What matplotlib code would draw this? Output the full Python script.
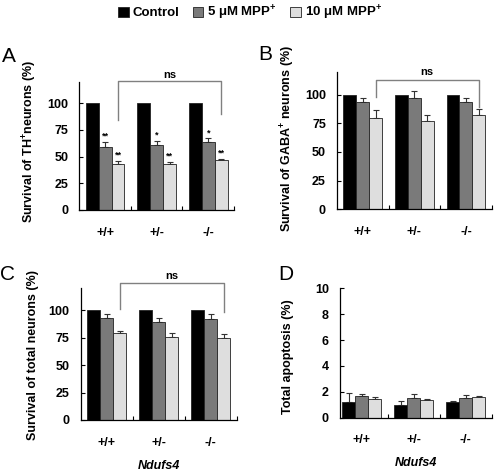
import numpy as np
import matplotlib
matplotlib.use("Agg")
import matplotlib.pyplot as plt

plt.rcParams['font.family'] = ['Liberation Sans', 'DejaVu Sans']
plt.rcParams['font.weight'] = 'bold'
plt.rcParams['axes.labelweight'] = 'bold'
plt.rcParams['mathtext.fontset'] = 'custom'
plt.rcParams['mathtext.rm'] = 'Liberation Sans:bold'
plt.rcParams['mathtext.it'] = 'Liberation Sans:bold:italic'
plt.rcParams['mathtext.bf'] = 'Liberation Sans:bold'

# data
genotypes = ['+/+', '+/-', '-/-']
series_names = ['Control', '5 μM MPP$^{+}$', '10 μM MPP$^{+}$']
colors = ['#000000', '#7a7a7a', '#dedede']

th_ctrl = [100, 100, 100]
th_ctrl_err = [0, 0, 0]
th_5 = [59, 61, 64]
th_5_err = [5, 4, 3]
th_10 = [43, 43, 47]
th_10_err = [3, 2, 1]
th_5_stars = ['**', '*', '*']
th_10_stars = ['**', '**', '**']

gaba_ctrl = [100, 100, 100]
gaba_ctrl_err = [0, 0, 0]
gaba_5 = [94, 97, 94]
gaba_5_err = [3, 6, 3]
gaba_10 = [80, 77, 82]
gaba_10_err = [7, 5, 5.5]

total_ctrl = [100, 100, 100]
total_ctrl_err = [0, 0, 0]
total_5 = [92.5, 89.5, 92]
total_5_err = [4.5, 3, 5]
total_10 = [79.5, 76, 75]
total_10_err = [2, 3.5, 3]

apop_ctrl = [1.25, 1.0, 1.2]
apop_ctrl_err = [0.65, 0.28, 0.12]
apop_5 = [1.65, 1.55, 1.55]
apop_5_err = [0.18, 0.28, 0.18]
apop_10 = [1.45, 1.35, 1.6]
apop_10_err = [0.17, 0.1, 0.05]

W, H = 494, 474
fig = plt.figure(figsize=(W / 100, H / 100), dpi=100)


def px_axes(x0, y0, x1, y1):
    # pixel box -> figure fraction
    return fig.add_axes([x0 / W, 1 - y1 / H, (x1 - x0) / W, (y1 - y0) / H])


def draw_panel(ax, means, errs, ylim, yticks, xlim=(-0.5, 2.5)):
    x = np.arange(len(genotypes))
    bw = 0.25
    bars = []
    for i, (m, e) in enumerate(zip(means, errs)):
        xs = x + (i - 1) * bw
        b = ax.bar(xs, m, bw, color=colors[i], edgecolor='#222222',
                   linewidth=0.6, zorder=2)
        bars.append(b)
        if any(v > 0 for v in e):
            ax.errorbar(xs, m, yerr=[np.zeros(len(e)), e], fmt='none',
                        ecolor='#333333', elinewidth=0.8, capsize=2.5,
                        capthick=0.8, zorder=1)
    ax.set_xlim(*xlim)
    ax.set_ylim(*ylim)
    ax.set_yticks(yticks)
    ax.set_xticks(x)
    ax.set_xticklabels(genotypes)
    ax.set_xticks([0.5, 1.5, 2.5], minor=True)
    ax.tick_params(axis='x', which='major', length=0, pad=12, labelsize=9)
    ax.tick_params(axis='x', which='minor', direction='in', length=3, width=0.8)
    ax.tick_params(axis='y', direction='in', length=3, width=0.8, labelsize=9, pad=8)
    for s in ['top', 'right']:
        ax.spines[s].set_visible(False)
    for s in ['left', 'bottom']:
        ax.spines[s].set_linewidth(0.9)
    return bars


def bracket(ax, x0, x1, ytop, yl, yr, label, ylab):
    ax.plot([x0, x0, x1, x1], [yl, ytop, ytop, yr], color='#808080',
            lw=1.0, clip_on=False, zorder=3)
    ax.text((x0 + x1) / 2, ylab, label, ha='center', va='center',
            fontsize=8, clip_on=False)


# A
axA = px_axes(79.3, 81.7, 234, 210)
bars = draw_panel(axA, [th_ctrl, th_5, th_10],
                  [th_ctrl_err, th_5_err, th_10_err], (0, 120), [0, 25, 50, 75, 100])
for i, (m, e, s) in enumerate(zip(th_5, th_5_err, th_5_stars)):
    axA.text(i, m + e + 1, s, ha='center', va='bottom', fontsize=6.5)
for i, (m, e, s) in enumerate(zip(th_10, th_10_err, th_10_stars)):
    axA.text(i + 0.25, m + e + 1, s, ha='center', va='bottom', fontsize=6.5)
bracket(axA, 0.25, 2.25, 120.5, 84, 90, 'ns', 126.5)

# B
axB = px_axes(337, 71.7, 491.7, 209.3)
draw_panel(axB, [gaba_ctrl, gaba_5, gaba_10],
           [gaba_ctrl_err, gaba_5_err, gaba_10_err], (0, 120), [0, 25, 50, 75, 100])
bracket(axB, 0.25, 2.25, 112.8, 98, 89.5, 'ns', 119.5)

# C
axC = px_axes(80.7, 288.3, 236.7, 420)
draw_panel(axC, [total_ctrl, total_5, total_10],
           [total_ctrl_err, total_5_err, total_10_err], (0, 120), [0, 25, 50, 75, 100])
bracket(axC, 0.25, 2.25, 124.8, 101.5, 98, 'ns', 131)

# D
axD = px_axes(340, 288.3, 491.7, 417.7)
draw_panel(axD, [apop_ctrl, apop_5, apop_10],
           [apop_ctrl_err, apop_5_err, apop_10_err], (0, 10), [0, 2, 4, 6, 8, 10],
           xlim=(-0.42, 2.5))

for ax in [axC, axD]:
    ax.set_xlabel('Ndufs4', fontsize=9, fontstyle='italic', labelpad=8)

# x = right edge of the rotated label, y = its centre (pixels)
ylabels = [(axA, 'Survival of TH$^{+}$neurons (%)', 39, 141.5),
           (axB, 'Survival of GABA$^{+}$ neurons (%)', 297, 139),
           (axC, 'Survival of total neurons (%)', 39, 354.5),
           (axD, 'Total apoptosis (%)', 294, 357)]
for ax, lab, lx, ly in ylabels:
    ax.set_ylabel(lab, fontsize=9)
    ax.yaxis.set_label_coords(lx / W, 1 - ly / H, transform=fig.transFigure)

for letter, lx, ly in [('A', 2, 62), ('B', 258, 60), ('C', 0, 280), ('D', 278, 280)]:
    fig.text(lx / W, 1 - ly / H, letter, fontsize=15, fontweight='normal',
             ha='left', va='baseline')

fig.legend(bars, series_names, loc='center', bbox_to_anchor=(250 / W, 1 - 12.5 / H),
           ncol=3, frameon=False, fontsize=9.5, handlelength=0.8, handleheight=0.8,
           handletextpad=0.3, columnspacing=1.0, borderpad=0)

fig.savefig('out.png', dpi=100)
